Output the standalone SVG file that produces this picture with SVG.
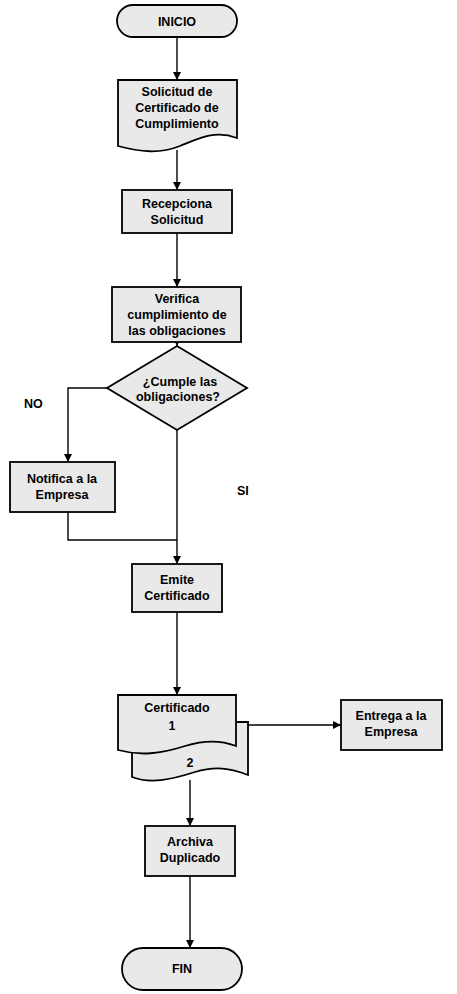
<svg xmlns="http://www.w3.org/2000/svg" width="457" height="994" viewBox="0 0 457 994">
  <defs>
    <marker id="arrow" viewBox="0 0 10 10" refX="10" refY="5" markerWidth="8" markerHeight="8" markerUnits="userSpaceOnUse" orient="auto">
      <path d="M0,0 L10,5 L0,10 z" fill="#000"/>
    </marker>
  </defs>
  <style>
    .shape { fill: #e9e9e9; stroke: #000; stroke-width: 1.8; }
    .line { fill: none; stroke: #000; stroke-width: 1.4; }
    .txt { font-family: "Liberation Sans", Arial, sans-serif; font-weight: bold; font-size: 12.5px; fill: #000; text-anchor: middle; }
    .lbl { font-family: "Liberation Sans", Arial, sans-serif; font-weight: bold; font-size: 12.5px; fill: #000; }
  </style>
  <rect width="457" height="994" fill="#fff"/>

  <!-- connectors -->
  <g id="connectors">
    <path class="line" d="M177,37 V80" marker-end="url(#arrow)"/>
    <path class="line" d="M177,150 V190" marker-end="url(#arrow)"/>
    <path class="line" d="M177,233 V287" marker-end="url(#arrow)"/>
    <path class="line" d="M177,342 V346" marker-end="url(#arrow)"/>
    <path class="line" d="M107,388 H68 V462" marker-end="url(#arrow)"/>
    <path class="line" d="M68,512 V540 H177"/>
    <path class="line" d="M177,430 V564" marker-end="url(#arrow)"/>
    <path class="line" d="M177,612 V695" marker-end="url(#arrow)"/>
    <path class="line" d="M248,725 H341" marker-end="url(#arrow)"/>
    <path class="line" d="M190,780 V826" marker-end="url(#arrow)"/>
    <path class="line" d="M190,876 V948" marker-end="url(#arrow)"/>
  </g>

  <g id="inicio">
    <rect class="shape" x="117" y="5" width="120" height="32" rx="16" ry="16"/>
    <text class="txt" x="177" y="26">INICIO</text>
  </g>

  <g id="solicitud">
    <path class="shape" d="M118,80 H237 V138 C215,130 200,138 180,146 C160,154 140,152 118,146 Z"/>
    <text class="txt" x="177" y="96">Solicitud de</text>
    <text class="txt" x="177" y="112">Certificado de</text>
    <text class="txt" x="177" y="128">Cumplimiento</text>
  </g>

  <g id="recepciona">
    <rect class="shape" x="122" y="190" width="110" height="43"/>
    <text class="txt" x="177" y="208">Recepciona</text>
    <text class="txt" x="177" y="224">Solicitud</text>
  </g>

  <g id="verifica">
    <rect class="shape" x="112" y="287" width="129" height="55"/>
    <text class="txt" x="177" y="303">Verifica</text>
    <text class="txt" x="177" y="319">cumplimiento de</text>
    <text class="txt" x="177" y="335">las obligaciones</text>
  </g>

  <g id="decision">
    <polygon class="shape" points="177,346 247,388 177,430 107,388"/>
    <text class="txt" x="180" y="386">¿Cumple las</text>
    <text class="txt" x="178" y="401">obligaciones?</text>
  </g>

  <text class="lbl" x="24" y="408">NO</text>
  <text class="lbl" x="237" y="495">SI</text>

  <g id="notifica">
    <rect class="shape" x="10" y="462" width="105" height="50"/>
    <text class="txt" x="62" y="483">Notifica a la</text>
    <text class="txt" x="62" y="499">Empresa</text>
  </g>

  <g id="emite">
    <rect class="shape" x="132" y="564" width="90" height="48"/>
    <text class="txt" x="177" y="584">Emite</text>
    <text class="txt" x="177" y="600">Certificado</text>
  </g>

  <g id="certificado">
    <path class="shape" d="M132,722 H248 V775 C230,768 215,766 195,772 C170,780 150,784 132,777 Z"/>
    <path class="shape" d="M118,695 H236 V746 C220,740 205,740 185,746 C160,754 140,756 118,750 Z"/>
    <text class="txt" x="177" y="712">Certificado</text>
    <text class="txt" x="172" y="730">1</text>
    <text class="txt" x="190" y="767">2</text>
  </g>

  <g id="entrega">
    <rect class="shape" x="341" y="700" width="101" height="50"/>
    <text class="txt" x="391" y="720">Entrega a la</text>
    <text class="txt" x="391" y="736">Empresa</text>
  </g>

  <g id="archiva">
    <rect class="shape" x="145" y="826" width="90" height="50"/>
    <text class="txt" x="190" y="846">Archiva</text>
    <text class="txt" x="190" y="862">Duplicado</text>
  </g>

  <g id="fin">
    <rect class="shape" x="122" y="948" width="120" height="42" rx="21" ry="21"/>
    <text class="txt" x="182" y="973">FIN</text>
  </g>
</svg>
